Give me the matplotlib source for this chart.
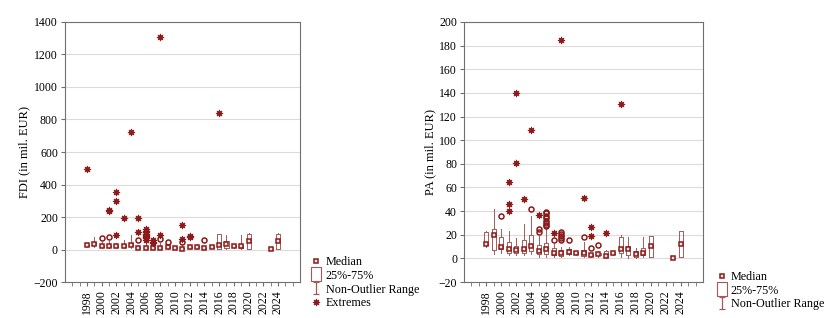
import matplotlib
matplotlib.use("Agg")
import matplotlib.pyplot as plt
from matplotlib.lines import Line2D
from matplotlib.path import Path
import numpy as np

plt.rcParams['font.family'] = ['Liberation Serif', 'DejaVu Serif']

# ---------------- data ----------------
years = [1998, 1999, 2000, 2001, 2002, 2003, 2004, 2005, 2006, 2007, 2008, 2009,
         2010, 2011, 2012, 2013, 2014, 2015, 2016, 2017, 2018, 2019, 2020, 2023, 2024]

fdi_med = [25, 37, 20, 20, 20, 20, 31, 12, 12, 12, 12, 14, 12, 6, 14, 16, 8, 16, 29, 33, 20, 20, 53, 4, 53]
fdi_q1  = [20, 25, 15, 15, 15, 15, 20, 8, 8, 8, 8, 10, 8, 3, 8, 10, 5, 12, 6, 10, 15, 12, 6, 2, 6]
fdi_q3  = [30, 45, 28, 28, 28, 30, 42, 18, 18, 18, 18, 20, 16, 12, 20, 22, 12, 20, 94, 50, 25, 30, 98, 6, 98]
fdi_lo  = [15, 15, 8, 8, 8, 8, 10, 3, 3, 3, 3, 5, 5, 1, 3, 5, 2, 8, 2, 3, 10, 5, 2, 1, 2]
fdi_hi  = [35, 80, 45, 50, 40, 57, 92, 30, 35, 30, 40, 30, 22, 25, 30, 37, 20, 24, 98, 92, 30, 92, 100, 7, 100]
fdi_out = {2000: [72], 2001: [80], 2005: [57], 2008: [66], 2009: [49], 2011: [47], 2014: [61]}
fdi_ext = {1998: [497], 2001: [238, 244], 2002: [88, 299, 357], 2003: [197], 2004: [722],
           2005: [105, 195], 2006: [60, 68, 75, 82, 90, 98, 105, 112, 125], 2007: [40, 48, 56],
           2008: [92, 1306], 2011: [66, 152], 2012: [80, 82], 2016: [840]}

pa_med = [12, 19.5, 10, 7.6, 7.3, 7.6, 10.7, 6.5, 7.6, 5, 4.2, 5.6, 4.8, 4.2, 2.8, 3.7, 2, 4.8, 7.6, 7.6, 3.7, 4.8, 10.4, 0.3, 11.8]
pa_q1  = [11, 7, 8, 5, 5, 5, 6.5, 3.7, 3.7, 3, 2, 4, 3.8, 2.3, 2, 2.5, 1, 4, 4.2, 2.8, 1.5, 2.8, 1.4, 0.2, 0.8]
pa_q3  = [22, 25, 18, 13.5, 10.5, 15.5, 20, 11, 13, 8.5, 7, 8, 5.8, 7, 4, 5, 6, 5.5, 18.3, 10.4, 6, 8.5, 19.2, 0.4, 23]
pa_lo  = [10, 4, 5, 3, 3, 3, 4, 1.4, 1.4, 1.5, 1, 2.5, 3, 1, 1, 1.5, 0.5, 3, 1, 0.5, 0.5, 1.5, 1.4, 0.1, 0.8]
pa_hi  = [23, 42, 25, 23, 17, 29, 36, 19, 25, 12, 10, 10, 6.5, 14, 5, 6.5, 7, 6, 19.5, 18, 9, 18, 19.2, 0.5, 23]
pa_out = {2000: [36], 2004: [42], 2005: [22, 25], 2006: [27, 28.5, 30, 32, 34, 36, 38, 39.5],
          2007: [15.5], 2008: [16, 17.5, 19, 21, 22], 2009: [15.5], 2011: [18.3], 2012: [8.5], 2013: [11.3]}
pa_ext = {2001: [40, 46, 65], 2002: [81, 140], 2003: [50], 2004: [109], 2005: [37], 2007: [21.7],
          2008: [185], 2011: [51], 2012: [19.2, 26.2], 2014: [21.7], 2016: [131]}

tick_years = list(range(1998, 2025, 2))

# ---------------- style ----------------
DARK = '#8b1a1a'
BOXC = '#a45a58'
SPINE = '#707070'

ibeam = Path([(-0.45, -1), (0.45, -1), (0, -1), (0, 1), (-0.45, 1), (0.45, 1)],
             [Path.MOVETO, Path.LINETO, Path.MOVETO, Path.LINETO, Path.MOVETO, Path.LINETO])
rect = Path([(-0.75, -1), (0.75, -1), (0.75, 1), (-0.75, 1), (-0.75, -1)],
            [Path.MOVETO, Path.LINETO, Path.LINETO, Path.LINETO, Path.CLOSEPOLY])

fig = plt.figure(figsize=(8.32, 3.18), dpi=100)

MED_MS, OUT_MS, EXT_MS = 3.4, 3.6, 5.2


def panel(rect_pos, med, q1, q3, lo, hi, out, ext, ylim, yticks, ylabel):
    ax = fig.add_axes(rect_pos)
    stats = []
    for i, y in enumerate(years):
        stats.append(dict(med=med[i], q1=q1[i], q3=q3[i], whislo=lo[i], whishi=hi[i], fliers=[]))
    ax.bxp(stats, positions=years, widths=0.55, showfliers=False, manage_ticks=False,
           boxprops=dict(color=BOXC, lw=0.7),
           whiskerprops=dict(color=BOXC, lw=0.7),
           capprops=dict(color=BOXC, lw=0.0),
           medianprops=dict(lw=0))
    ax.plot(years, med, ls='none', marker='s', ms=MED_MS, mfc='#f4e6e6', mec=DARK, mew=1.1, zorder=5)
    for y, vals in out.items():
        ax.plot([y] * len(vals), vals, ls='none', marker='o', ms=OUT_MS, mfc='none', mec=DARK, mew=1.1, zorder=6)
    for y, vals in ext.items():
        ax.plot([y] * len(vals), vals, ls='none', marker=(8, 1, 0), ms=EXT_MS, mfc=DARK, mec=DARK, mew=0.5, zorder=7)
    ax.set_xlim(1995, 2027)
    ax.set_ylim(*ylim)
    ax.set_yticks(yticks)
    ax.set_xticks(tick_years)
    ax.set_xticks(range(1996, 2027), minor=True)
    ax.set_xticklabels([str(t) for t in tick_years], rotation=90, fontsize=8.5)
    ax.tick_params(axis='y', labelsize=8.5, length=3, color=SPINE, pad=2)
    ax.tick_params(axis='x', which='both', length=3, color=SPINE, pad=3)
    ax.yaxis.grid(True, color='#dcdcdc', lw=0.8)
    ax.set_axisbelow(True)
    for s in ax.spines.values():
        s.set_color(SPINE)
        s.set_linewidth(0.8)
    ax.set_ylabel(ylabel, fontsize=9, labelpad=2)
    return ax


ax1 = panel([0.078, 0.113, 0.2825, 0.818], fdi_med, fdi_q1, fdi_q3, fdi_lo, fdi_hi, fdi_out, fdi_ext,
            (-200, 1400), list(range(-200, 1401, 200)), 'FDI (in mil. EUR)')
ax2 = panel([0.5577, 0.113, 0.2873, 0.818], pa_med, pa_q1, pa_q3, pa_lo, pa_hi, pa_out, pa_ext,
            (-20, 200), list(range(-20, 201, 20)), 'PA (in mil. EUR)')

h_med = Line2D([], [], ls='none', marker='s', ms=MED_MS, mfc='#f4e6e6', mec=DARK, mew=1.1)
h_box = Line2D([], [], ls='none', marker=rect, ms=9.5, mfc='none', mec=BOXC, mew=0.8)
h_rng = Line2D([], [], ls='none', marker=ibeam, ms=9, mfc='none', mec=BOXC, mew=0.9)
h_ext = Line2D([], [], ls='none', marker=(8, 1, 0), ms=EXT_MS, mfc=DARK, mec=DARK, mew=0.5)

leg_kw = dict(frameon=False, fontsize=8.7, handlelength=0.9, handletextpad=0.3,
              labelspacing=0.12, borderaxespad=0, loc='upper left', handleheight=0.9)
fig.legend([h_med, h_box, h_rng, h_ext], ['Median', '25%-75%', 'Non-Outlier Range', 'Extremes'],
           bbox_to_anchor=(0.368, 0.21), **leg_kw)
fig.legend([h_med, h_box, h_rng], ['Median', '25%-75%', 'Non-Outlier Range'],
           bbox_to_anchor=(0.855, 0.163), **leg_kw)

fig.savefig('out.png', dpi=100)
